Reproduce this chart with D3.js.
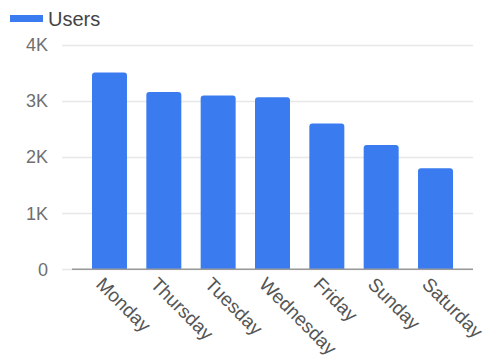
<!DOCTYPE html>
<html>
<head>
<meta charset="utf-8">
<script src="https://cdn.jsdelivr.net/npm/d3@7.8.5/dist/d3.min.js"></script>
<style>
  body { margin: 0; background: #fff; }
  svg { display: block; font-family: "Liberation Sans", Arial, sans-serif; }
</style>
</head>
<body>
<div id="chart"></div>
<script>
// data
const days = ['Monday', 'Thursday', 'Tuesday', 'Wednesday', 'Friday', 'Sunday', 'Saturday'];
const users = [3510, 3160, 3100, 3070, 2600, 2215, 1800];
const yTicks = [0, 1000, 2000, 3000, 4000];
const tickLabels = ['0', '1K', '2K', '3K', '4K'];
const seriesName = 'Users';

const width = 486, height = 359;
const barColor = '#3a7cf0';

const svg = d3.select('#chart').append('svg')
    .attr('width', width)
    .attr('height', height);

const x = d3.scaleBand()
    .domain(days)
    .range([72, 473])
    .paddingInner(0.356)
    .paddingOuter(0.368);

const y = d3.scaleLinear()
    .domain([0, 4000])
    .range([269.3, 45]);

// gridlines
svg.append('g')
    .selectAll('line')
    .data(yTicks)
    .join('line')
    .attr('x1', 62)
    .attr('x2', 473)
    .attr('y1', d => Math.round(y(d)) + 0.5)
    .attr('y2', d => Math.round(y(d)) + 0.5)
    .style('stroke', '#e8e8e8')
    .style('stroke-width', 1.5);

// y tick labels
svg.append('g')
    .selectAll('text')
    .data(yTicks)
    .join('text')
    .attr('x', 48)
    .attr('y', d => y(d))
    .attr('dy', '0.35em')
    .attr('text-anchor', 'end')
    .style('font-size', '18px')
    .style('fill', '#6f6f6f')
    .text((d, i) => tickLabels[i]);

// bars with rounded tops
const r = 3;
svg.append('g')
    .selectAll('path')
    .data(days)
    .join('path')
    .attr('d', (d, i) => {
        const x0 = x(d), w = x.bandwidth();
        const y0 = y(users[i]), y1 = y(0);
        return `M${x0},${y1}V${y0 + r}Q${x0},${y0} ${x0 + r},${y0}H${x0 + w - r}Q${x0 + w},${y0} ${x0 + w},${y0 + r}V${y1}Z`;
    })
    .style('fill', barColor);

// baseline
svg.append('line')
    .attr('x1', 72)
    .attr('x2', 473)
    .attr('y1', y(0))
    .attr('y2', y(0))
    .style('stroke', '#9a9a9a')
    .style('stroke-width', 1.5);

// x labels, rotated
svg.append('g')
    .selectAll('text')
    .data(days)
    .join('text')
    .attr('transform', d => `translate(${x(d) + x.bandwidth() / 2 - 5},${276}) rotate(45)`)
    .attr('dy', '0.7em')
    .attr('text-anchor', 'start')
    .style('font-size', '19px')
    .style('fill', '#555')
    .text(d => d);

// legend
const legend = svg.append('g');
legend.append('rect')
    .attr('x', 10)
    .attr('y', 15)
    .attr('width', 33)
    .attr('height', 7)
    .style('fill', barColor);
legend.append('text')
    .attr('x', 48)
    .attr('y', 18.5)
    .attr('dy', '0.35em')
    .style('font-size', '20px')
    .style('fill', '#444')
    .text(seriesName);
</script>
</body>
</html>
